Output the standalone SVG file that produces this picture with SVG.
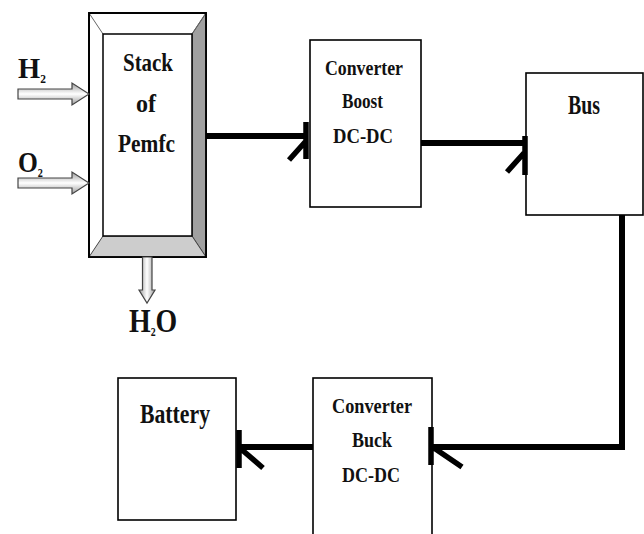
<svg xmlns="http://www.w3.org/2000/svg" width="644" height="534" viewBox="0 0 644 534">
<defs>
<linearGradient id="gh" x1="0" y1="0" x2="0" y2="1">
<stop offset="0" stop-color="#9a9a9a"/><stop offset="0.5" stop-color="#ffffff"/><stop offset="1" stop-color="#9a9a9a"/>
</linearGradient>
<linearGradient id="gv" x1="0" y1="0" x2="1" y2="0">
<stop offset="0" stop-color="#9a9a9a"/><stop offset="0.5" stop-color="#ffffff"/><stop offset="1" stop-color="#9a9a9a"/>
</linearGradient>
</defs>
<style>
.box{fill:#fff;stroke:#000;stroke-width:1.6}
.t{font-family:"Liberation Serif","Times New Roman",serif;font-weight:bold;fill:#111;text-anchor:middle}
.lbl{font-family:"Liberation Serif","Times New Roman",serif;font-weight:bold;fill:#111}
.wire{fill:none;stroke:#000;stroke-width:6;stroke-linejoin:miter}
.head{fill:none;stroke:#000;stroke-width:5.5}
.hollow{stroke:#444;stroke-width:1.2}
</style>
<rect width="644" height="534" fill="#fff"/>

<g id="stack">
<rect x="89" y="13" width="117" height="244" fill="#fff" stroke="#000" stroke-width="1.8"/>
<polygon points="206,13 206,257 192,236 192,34" fill="#a0a0a0" stroke="#444" stroke-width="1"/>
<polygon points="89,257 206,257 192,236 103,236" fill="#cdcdcd" stroke="#444" stroke-width="1"/>
<line x1="89" y1="13" x2="103" y2="34" stroke="#666" stroke-width="1"/>
<line x1="206" y1="13" x2="192" y2="34" stroke="#666" stroke-width="1"/>
<rect x="103" y="34" width="89" height="202" fill="#fff" stroke="#000" stroke-width="1.5"/>
<rect x="89" y="13" width="117" height="244" fill="none" stroke="#000" stroke-width="1.8"/>
<text class="t" x="148" y="71" font-size="26" textLength="50" lengthAdjust="spacingAndGlyphs">Stack</text>
<text class="t" x="146" y="112" font-size="26" textLength="20" lengthAdjust="spacingAndGlyphs">of</text>
<text class="t" x="146.5" y="152" font-size="26" textLength="57" lengthAdjust="spacingAndGlyphs">Pemfc</text>
</g>

<g id="h2-in">
<polygon class="hollow" fill="url(#gh)" points="18,89 72,89 72,83 89,94 72,105 72,99 18,99"/>
<text class="lbl" transform="translate(18,78) scale(0.95,1)" font-size="30">H<tspan font-size="12" dy="5">2</tspan></text>
</g>

<g id="o2-in">
<polygon class="hollow" fill="url(#gh)" points="18,178 72,178 72,172 89,183 72,194 72,188 18,188"/>
<text class="lbl" transform="translate(18,172) scale(0.85,1)" font-size="30">O<tspan font-size="12" dy="5">2</tspan></text>
</g>

<g id="h2o-out">
<polygon class="hollow" fill="url(#gv)" points="142.5,257 152,257 152,290 155,290 147,303 139,290 142.5,290"/>
<text class="lbl" transform="translate(129,332) scale(0.82,1)" font-size="34">H<tspan font-size="12" dy="4">2</tspan><tspan dy="-4">O</tspan></text>
</g>

<g id="boost">
<rect class="box" x="310" y="40" width="111" height="167"/>
<text class="t" x="364" y="75" font-size="22" textLength="78" lengthAdjust="spacingAndGlyphs">Converter</text>
<text class="t" x="362.5" y="108" font-size="22" textLength="41" lengthAdjust="spacingAndGlyphs">Boost</text>
<text class="t" x="363" y="143" font-size="22" textLength="60" lengthAdjust="spacingAndGlyphs">DC-DC</text>
</g>

<g id="bus">
<rect class="box" x="526" y="73" width="117" height="142"/>
<text class="t" x="584" y="114" font-size="28" textLength="32" lengthAdjust="spacingAndGlyphs">Bus</text>
</g>

<g id="battery">
<rect class="box" x="118" y="378" width="118" height="142"/>
<text class="t" x="175" y="423" font-size="28" textLength="70" lengthAdjust="spacingAndGlyphs">Battery</text>
</g>

<g id="buck">
<rect class="box" x="313" y="378" width="119" height="170"/>
<text class="t" x="372" y="413" font-size="22" textLength="80" lengthAdjust="spacingAndGlyphs">Converter</text>
<text class="t" x="372" y="447" font-size="22" textLength="40" lengthAdjust="spacingAndGlyphs">Buck</text>
<text class="t" x="371" y="482" font-size="22" textLength="58" lengthAdjust="spacingAndGlyphs">DC-DC</text>
</g>

<g id="connectors">
<line class="wire" x1="206" y1="136" x2="306" y2="136"/>
<path class="head" d="M306,122 V159 M289,160 L306,141"/>
<line class="wire" x1="421" y1="143" x2="525" y2="143"/>
<path class="head" d="M525,136 V175 M507,172 L524,153"/>
<polyline class="wire" points="622,215 622,447 432,447"/>
<path class="head" d="M431,427 V465 M434,448 L462,467"/>
<line class="wire" x1="313" y1="447" x2="239" y2="447"/>
<path class="head" d="M239,430 V468 M241,449 L263,468"/>
</g>
</svg>
